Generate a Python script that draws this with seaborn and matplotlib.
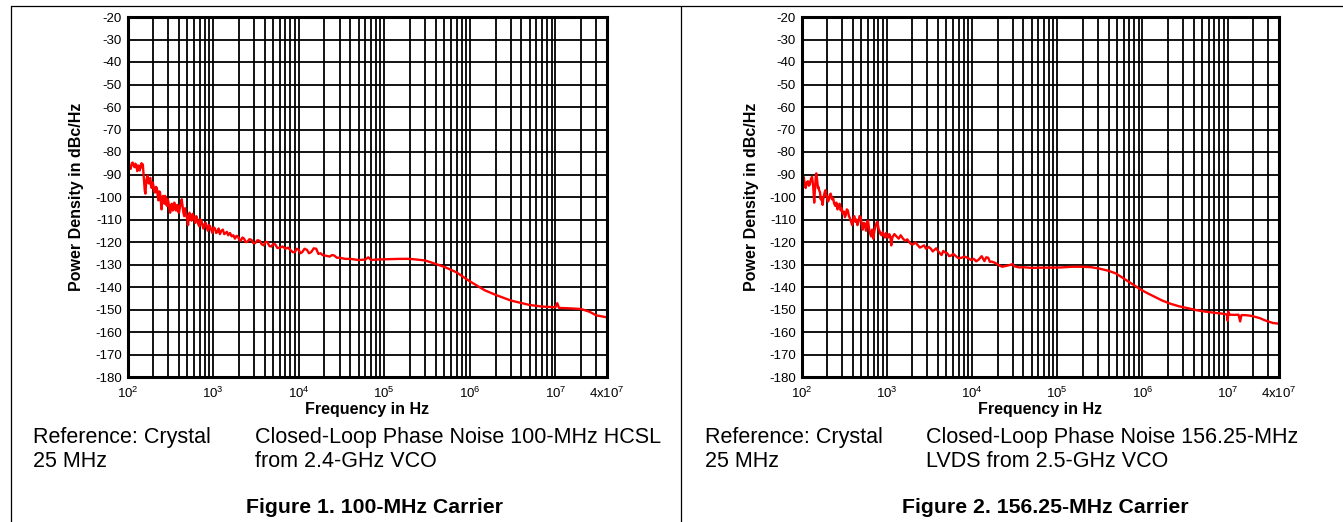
import pandas as pd
import seaborn as sns
import matplotlib.pyplot as plt
from matplotlib.lines import Line2D
from matplotlib.ticker import FixedLocator, LogLocator, NullFormatter

# Figure 1: 100-MHz carrier (frequency in Hz, noise in dBc/Hz)
freq_1 = [100, 103, 106, 109, 112, 115, 118, 121, 124, 127, 130, 133, 136, 139, 142,
          146, 149, 151, 154, 156, 159, 162, 165, 167, 170, 172, 175, 178, 181, 185,
          188, 192, 196, 200, 205, 210, 215, 220, 225, 230, 235, 240, 245, 250, 255,
          260, 265, 270, 275, 280, 285, 290, 295, 300, 308, 315, 322, 330, 338, 345,
          352, 360, 368, 375, 383, 390, 400, 410, 420, 430, 440, 450, 460, 470, 480,
          490, 500, 510, 520, 530, 545, 560, 575, 590, 605, 620, 635, 650, 670, 690,
          710, 730, 750, 770, 795, 820, 845, 870, 895, 920, 950, 980, 1015, 1050, 1085,
          1120, 1160, 1200, 1250, 1300, 1350, 1400, 1450, 1500, 1575, 1650, 1725, 1800,
          1875, 1950, 2025, 2100, 2200, 2300, 2400, 2500, 2650, 2800, 2950, 3100, 3300,
          3500, 3700, 3900, 4100, 4300, 4550, 4800, 5050, 5300, 5650, 6000, 6500, 7000,
          7500, 8000, 8500, 9000, 9500, 10000, 10500, 11000, 11700, 12500, 13200, 14000,
          15000, 16000, 17000, 18000, 19000, 20000, 21500, 23000, 24500, 26000, 28000,
          30000, 35000, 40000, 50000, 60000, 65000, 70000, 80000, 100000, 150000,
          200000, 300000, 400000, 500000, 700000, 1000000, 1500000, 2000000, 3000000,
          5000000, 7000000, 10000000, 10500000, 11000000, 15000000, 20000000, 25000000,
          30000000, 40000000]
noise_1 = [-86.5, -88, -86.5, -87.5, -85, -84.7, -86, -86.8, -85.2, -86, -88.5, -86,
           -87.5, -88.2, -86, -85, -87, -85.5, -90, -93, -97, -98.5, -94, -92, -91,
           -90.5, -93.5, -94, -92, -91.5, -95, -96, -93.5, -94.5, -97.5, -98, -95.5,
           -96, -99, -101.5, -97.5, -98, -102, -105.5, -100, -99.5, -102.5, -103,
           -99.5, -100.5, -103.5, -104, -101, -102, -105, -107, -103.5, -103, -106,
           -105.5, -102.5, -103.5, -106, -105, -103.5, -106.5, -107, -104.5, -103,
           -101, -104, -107, -108.5, -105, -107.5, -108.5, -110, -112.5, -109, -107,
           -109, -110.5, -107.5, -108.5, -110, -111.5, -108.5, -109.5, -112, -113,
           -110, -110.5, -112.5, -114, -112, -111.5, -113.5, -115, -112.5, -113,
           -114.5, -116, -113.5, -114, -116, -115.5, -114, -116.5, -115, -114.5,
           -116.5, -116, -115.5, -117, -116, -117.5, -117, -118.5, -117.3, -117.5,
           -119, -119.5, -118, -118.5, -120, -120, -118.8, -119, -120.5, -120.5,
           -119.2, -119.5, -121, -121.5, -120, -120, -121.8, -122, -120.8, -121,
           -122.7, -122.5, -122, -123, -122.5, -123.5, -124.5, -124.5, -123, -123.5,
           -125, -124.5, -123, -123.5, -125, -124.5, -122.8, -123, -125.3, -125,
           -125.8, -126, -126.2, -126.5, -125.8, -126, -127, -127, -127.5, -127.5,
           -128, -127.8, -126.8, -128, -127.8, -127.7, -127.5, -127.5, -128.2, -129.8,
           -131, -133.5, -137.5, -141.5, -143.5, -146, -148, -148.7, -149, -147.2,
           -149.3, -149.5, -149.8, -151, -152.6, -153.5]

# Figure 2: 156.25-MHz carrier
freq_2 = [100, 103, 106, 109, 112, 115, 119, 122, 125, 129, 133, 135, 137, 139, 141,
          143, 145, 147, 149, 151, 153, 156, 158, 161, 165, 168, 171, 174, 177, 180,
          184, 187, 191, 195, 200, 205, 210, 215, 220, 228, 235, 242, 250, 257, 264,
          272, 280, 288, 295, 305, 315, 323, 331, 340, 350, 360, 371, 382, 393, 404,
          416, 428, 440, 453, 466, 480, 495, 509, 523, 539, 555, 571, 587, 603, 620,
          637, 655, 675, 695, 717, 740, 760, 779, 800, 820, 845, 870, 897, 925, 952,
          980, 1010, 1040, 1070, 1100, 1130, 1162, 1230, 1300, 1380, 1459, 1550, 1650,
          1740, 1833, 1940, 2050, 2170, 2302, 2450, 2600, 2750, 2891, 3100, 3300, 3460,
          3630, 3800, 4000, 4200, 4400, 4600, 4800, 5120, 5400, 5700, 6050, 6430, 6950,
          7500, 8250, 9040, 9750, 10500, 11200, 12000, 13000, 14000, 14700, 15500,
          16200, 17000, 18500, 20000, 21200, 22550, 24000, 26000, 28000, 29930, 31500,
          33000, 36000, 40000, 50000, 62800, 80000, 111100, 150000, 196700, 250000,
          310500, 400000, 489900, 580000, 689000, 820000, 970000, 1150000, 1368000,
          1700000, 2158000, 2700000, 3405000, 4300000, 5370000, 6800000, 8470000,
          9800000, 10000000, 10200000, 10500000, 12000000, 13400000, 14000000,
          14500000, 16000000, 18800000, 21000000, 23700000, 26500000, 29700000,
          34000000, 40000000]
noise_2 = [-90.5, -92, -91, -94, -96, -93.5, -93, -95, -94.5, -92, -91, -93, -95, -99,
           -102.5, -98, -95, -91, -89.5, -91, -93, -96, -95.5, -97, -98, -101, -100,
           -102, -103.5, -101, -99, -98, -97, -99.5, -100, -102, -101, -99, -98.5,
           -101, -100.5, -103, -104, -102.5, -105.5, -104, -103, -106, -105, -107.5,
           -106.5, -109, -108, -105.5, -106, -108.5, -109.5, -111, -112.5, -110,
           -108.5, -111, -110, -112.5, -111, -108.5, -109, -112, -114.5, -111.5, -112,
           -115, -111, -110.5, -114, -116, -117.5, -114.5, -118.5, -115, -113, -111.5,
           -111, -114, -115, -116.5, -117, -115.5, -117, -118, -116, -117.5, -118,
           -116.5, -117.5, -121.5, -118, -116.5, -117.5, -118.5, -117, -118.5, -119.5,
           -118.8, -120, -121, -121, -120.2, -121.3, -122.5, -122, -121.5, -123,
           -122.2, -123, -124.2, -123.5, -122.8, -124, -125, -125.8, -124, -124.5,
           -125, -126.3, -126, -125.3, -126.2, -127.2, -127, -126.5, -127.2, -128,
           -127.5, -128.6, -127.8, -126.3, -128.5, -126.8, -127, -128.8, -128.7,
           -129.2, -130, -130.5, -131, -130.8, -130.5, -130.2, -129.8, -130.8, -131,
           -131.3, -131.2, -131.5, -131.4, -131.4, -131.3, -131, -131, -131.2, -131.8,
           -132.8, -134, -135.8, -137.6, -139.5, -141.3, -142.8, -144.2, -146, -147.5,
           -148.6, -149.4, -150.3, -150.9, -151.4, -151.8, -152.2, -155, -151, -152.3,
           -152.4, -152.3, -155.3, -152.5, -152.5, -152.8, -153.3, -153.8, -154.6,
           -155.3, -156, -156.3]
assert len(freq_1) == len(noise_1) and len(freq_2) == len(noise_2)

y_ticks = list(range(-180, -10, 10))
x_ticks = [1e2, 1e3, 1e4, 1e5, 1e6, 1e7, 4e7]
x_tick_labels = [r'$\mathregular{10^{2}}$', r'$\mathregular{10^{3}}$',
                 r'$\mathregular{10^{4}}$', r'$\mathregular{10^{5}}$',
                 r'$\mathregular{10^{6}}$', r'$\mathregular{10^{7}}$',
                 r'$\mathregular{4x10^{7}}$']

ref_lines = ['Reference: Crystal', '25 MHz']
desc_1 = ['Closed-Loop Phase Noise 100-MHz HCSL', 'from 2.4-GHz VCO']
desc_2 = ['Closed-Loop Phase Noise 156.25-MHz', 'LVDS from 2.5-GHz VCO']
title_1 = 'Figure 1. 100-MHz Carrier'
title_2 = 'Figure 2. 156.25-MHz Carrier'

sns.set_style('white')
plt.rcParams['font.family'] = ['Liberation Sans', 'DejaVu Sans']
plt.rcParams['mathtext.fontset'] = 'custom'
plt.rcParams['mathtext.rm'] = 'Liberation Sans'
for key in ['text.color', 'axes.labelcolor', 'xtick.color', 'ytick.color']:
    plt.rcParams[key] = 'black'

W, H = 1343, 522
fig = plt.figure(figsize=(W / 100, H / 100), dpi=100)


def draw_panel(left_px, right_px, freq, noise):
    ax = fig.add_axes([left_px / W, (H - 377) / H, (right_px - left_px) / W, 360 / H])
    df = pd.DataFrame({'Frequency': freq, 'Noise': noise})
    sns.lineplot(data=df, x='Frequency', y='Noise', ax=ax, color='#ff0000',
                 lw=1.7, estimator=None, sort=False)
    ax.set_xscale('log')
    ax.set_xlim(1e2, 4e7)
    ax.set_ylim(-180, -20)
    ax.xaxis.set_major_locator(FixedLocator(x_ticks))
    ax.set_xticklabels(x_tick_labels)
    ax.xaxis.set_minor_locator(LogLocator(base=10, subs=range(2, 10), numticks=20))
    ax.xaxis.set_minor_formatter(NullFormatter())
    ax.set_yticks(y_ticks)
    ax.set_yticklabels([str(v) for v in y_ticks])
    ax.grid(which='both', axis='x', color='black', lw=1.3)
    ax.grid(which='major', axis='y', color='black', lw=1.3)
    ax.tick_params(which='both', length=0, labelsize=9.5, colors='black')
    ax.tick_params(axis='y', pad=4)
    ax.tick_params(axis='x', pad=6)
    for s in ax.spines.values():
        s.set_color('black')
        s.set_linewidth(2.2)
    ax.set_xlabel('Frequency in Hz', fontsize=11.5, fontweight='bold')
    ax.set_ylabel('Power Density in dBc/Hz', fontsize=11.5, fontweight='bold')
    ax.xaxis.set_label_coords(0.5, -0.07)
    ax.yaxis.set_label_coords(-0.09, 0.5)
    return ax


draw_panel(127.5, 607, freq_1, noise_1)
draw_panel(801.5, 1279, freq_2, noise_2)


def caption(x_ref, x_desc, desc, x_title, title):
    for i, (a, b) in enumerate(zip(ref_lines, desc)):
        yb = 1 - (443 + 24 * i) / H
        fig.text(x_ref / W, yb, a, fontsize=15.5, va='baseline')
        fig.text(x_desc / W, yb, b, fontsize=15.5, va='baseline')
    fig.text(x_title / W, 1 - 513 / H, title, fontsize=15.3, fontweight='bold',
             ha='center', va='baseline')


caption(33, 255, desc_1, 375, title_1)
caption(705, 926, desc_2, 1045, title_2)

# thin frame lines of the page layout
for xs, ys in [([11, W], [5.5, 5.5]), ([11, 11], [5.5, H]), ([681, 681], [5.5, H])]:
    fig.add_artist(Line2D([x / W for x in xs], [1 - y / H for y in ys],
                          color='black', lw=0.9))

fig.savefig('out.png', dpi=100)
